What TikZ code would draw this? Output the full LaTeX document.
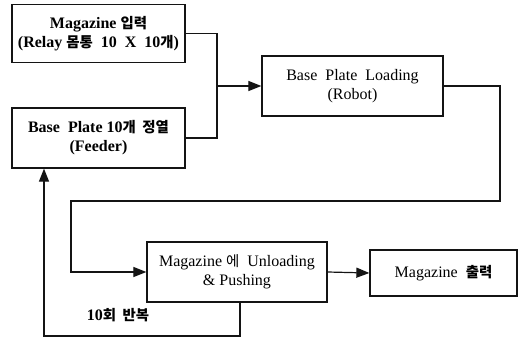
\documentclass[tikz,border=0pt]{standalone}
\usepackage{fontspec}
\setmainfont{Liberation Serif}
\newfontfamily\kofont[Scale=0.9]{Noto Sans CJK KR}
\usetikzlibrary{arrows.meta,positioning}
\definecolor{flowink}{RGB}{20,20,20}
\tikzset{
  flowbox/.style={draw=flowink, line width=1.3pt, fill=white,
    align=center, inner sep=2pt, font=\fontsize{16}{19}\selectfont},
  flowline/.style={draw=flowink, line width=1.2pt},
  flowarrow/.style={flowline, -{Triangle[length=13pt, width=10pt]}},
}

\begin{document}
\begin{tikzpicture}[x=1pt, y=-1pt]
  \useasboundingbox (0,0) rectangle (518,339);
  \node[flowbox, minimum width=173pt, minimum height=58pt] (magin) at (98.5,33.5)
    {\bfseries Magazine {\kofont 입력}\\ \bfseries (Relay {\kofont 몸통}\ \ 10\ \ X\ \ 10{\kofont 개})};
  \node[flowbox, minimum width=173pt, minimum height=60pt] (feeder) at (98.5,138)
    {\bfseries Base\ \ Plate 10{\kofont 개\ \ 정열}\\ \bfseries (Feeder)};
  \node[flowbox, minimum width=181pt, minimum height=60pt] (loading) at (352.5,86)
    {Base\ \ Plate\ \ Loading\\ (Robot)};
  \node[flowbox, minimum width=180pt, minimum height=60pt] (unload) at (237,272)
    {Magazine {\kofont 에}\ \ Unloading\\ \& Pushing};
  \node[flowbox, minimum width=147pt, minimum height=46pt] (magout) at (443.5,273)
    {Magazine\ \ {\kofont\bfseries 출력}};
  \node[font=\fontsize{16}{19}\selectfont\bfseries] (repeat) at (118,315)
    {10{\kofont 회\ \ 반복}};
  % junctions
  \coordinate (join) at (217,86);
  \coordinate (rdown) at (500,201);
  \coordinate (ldown) at (71,201);
  \coordinate (bright) at (240,336);
  \coordinate (bleft) at (44,336);
  \draw[flowline] (magin.east) -| (join) |- (feeder.east);
  \draw[flowarrow] (join) -- (loading.west);
  \draw[flowarrow] (loading.east) -| (rdown) -- (ldown) |- (unload.west);
  \draw[flowarrow] (unload.east) -- (magout.west);
  \draw[flowarrow] (unload.south -| bright) -- (bright) -- (bleft) -- (feeder.south -| bleft);
\end{tikzpicture}
\end{document}
